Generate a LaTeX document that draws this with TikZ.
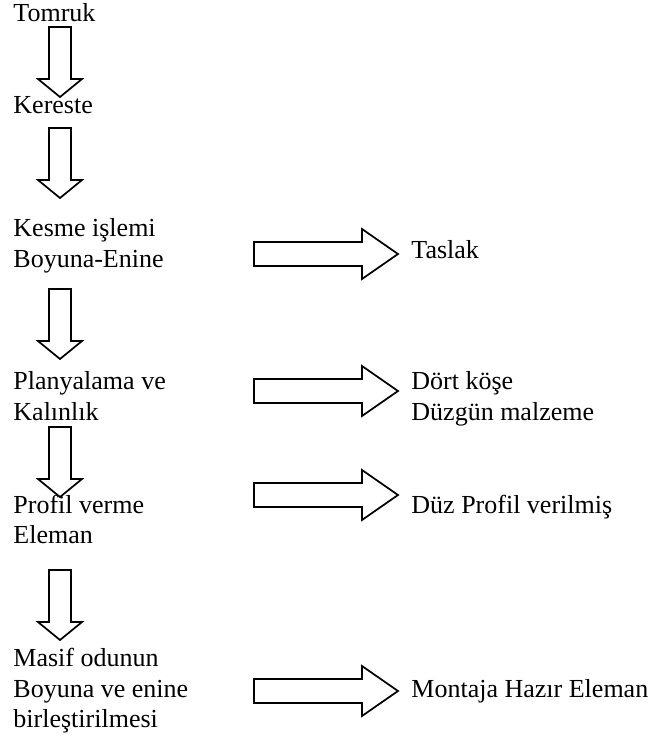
\documentclass[tikz,border=0pt]{standalone}
\usepackage{fontspec}
\setmainfont{Liberation Serif}
\newcommand{\dnarrow}[1]{\draw[blockarrow] (49,#1) -- (71,#1) -- (71,{#1+52}) -- (82,{#1+52}) -- (60,{#1+70}) -- (38,{#1+52}) -- (49,{#1+52}) -- cycle;}
\newcommand{\rtarrow}[1]{\draw[blockarrow] (254,{#1-12}) -- (362,{#1-12}) -- (362,{#1-25}) -- (398,#1) -- (362,{#1+25}) -- (362,{#1+12}) -- (254,{#1+12}) -- cycle;}
\begin{document}
\begin{tikzpicture}[x=0.4615pt,y=-0.4615pt,
  txt/.style={anchor=base west,inner sep=0pt,align=left,font=\fontsize{12}{13.85}\selectfont},
  blockarrow/.style={draw=black,fill=white,line width=0.8pt,line join=miter}]
\useasboundingbox (0,0) rectangle (654,737);
% left column (anchor = baseline of last line)
\node[txt] (tomruk) at (13,21) {Tomruk};
\node[txt] (kereste) at (13,113) {Kereste};
\node[txt] (kesme) at (13,267) {Kesme işlemi\\Boyuna-Enine};
\node[txt] (plan) at (13,420) {Planyalama ve\\Kalınlık};
\node[txt] (profil) at (13,543) {Profil verme\\Eleman};
\node[txt] (masif) at (13,727) {Masif odunun\\Boyuna ve enine\\birleştirilmesi};
% right column
\node[txt] (taslak) at (411,258) {Taslak};
\node[txt] (dort) at (411,420) {Dört köşe\\Düzgün malzeme};
\node[txt] (duz) at (411,513) {Düz Profil verilmiş};
\node[txt] (montaja) at (411,697) {Montaja Hazır Eleman};
% down arrows
\dnarrow{27}
\dnarrow{128}
\dnarrow{289}
\dnarrow{427}
\dnarrow{570}
% right arrows
\rtarrow{254}
\rtarrow{391}
\rtarrow{495}
\rtarrow{691}
\end{tikzpicture}
\end{document}
